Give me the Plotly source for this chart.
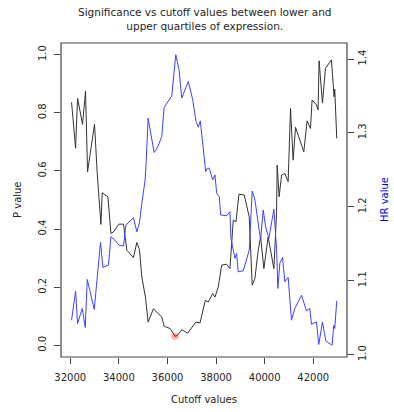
import plotly.graph_objects as go

# P value series (black)
cutoff_p = [32053, 32218, 32300, 32505, 32628, 32711, 32998, 33109, 33261, 33314,
            33548, 33672, 33778, 34000, 34189, 34329, 34600, 34739, 34846, 34945,
            35093, 35203, 35421, 35766, 35861, 36107, 36312, 36407, 36587, 36834,
            37162, 37339, 37557, 37680, 37861, 37955, 38091, 38230, 38436, 38571,
            38707, 38818, 38941, 39159, 39364, 39487, 39598, 39734, 39832, 39968,
            40144, 40378, 40489, 40514, 40596, 40695, 40830, 40966, 41064, 41171,
            41270, 41446, 41610, 41746, 41885, 41951, 42132, 42198, 42239, 42379,
            42502, 42748, 42855, 42884, 42966]
pvalue = [0.836, 0.678, 0.850, 0.760, 0.875, 0.597, 0.761, 0.591, 0.416, 0.525,
          0.511, 0.385, 0.390, 0.417, 0.417, 0.327, 0.302, 0.354, 0.330, 0.235,
          0.166, 0.080, 0.126, 0.097, 0.066, 0.058, 0.031, 0.034, 0.054, 0.042,
          0.080, 0.077, 0.155, 0.149, 0.178, 0.166, 0.201, 0.276, 0.279, 0.264,
          0.431, 0.425, 0.520, 0.517, 0.442, 0.207, 0.230, 0.327, 0.373, 0.264,
          0.373, 0.264, 0.454, 0.620, 0.511, 0.586, 0.591, 0.563, 0.815, 0.637,
          0.750, 0.706, 0.666, 0.772, 0.746, 0.844, 0.827, 0.810, 0.979, 0.833,
          0.953, 0.982, 0.855, 0.881, 0.712]

# HR series (blue)
cutoff_hr = [32053, 32218, 32300, 32493, 32616, 32698, 32986, 33244, 33343, 33573,
             33672, 33807, 34000, 34189, 34288, 34600, 34739, 34846, 34945, 35080,
             35121, 35203, 35450, 35602, 35766, 35861, 36177, 36341, 36477, 36587,
             36859, 37039, 37175, 37269, 37351, 37573, 37639, 37721, 37861, 37955,
             38025, 38132, 38189, 38436, 38571, 38612, 38777, 38847, 38912, 39118,
             39364, 39487, 39598, 39693, 39832, 39939, 40038, 40173, 40378, 40489,
             40542, 40624, 40735, 40830, 40966, 41105, 41241, 41516, 41721, 41857,
             41927, 42132, 42226, 42379, 42514, 42773, 42843, 42884, 42966]
hr = [1.0465, 1.0858, 1.0420, 1.0624, 1.0366, 1.1017, 1.0610, 1.1519, 1.1180, 1.1211,
      1.1595, 1.1559, 1.1482, 1.1468, 1.1753, 1.1852, 1.1662, 1.1784, 1.2047, 1.2363,
      1.2590, 1.3200, 1.2734, 1.2815, 1.2951, 1.3344, 1.3502, 1.4058, 1.3855, 1.3471,
      1.3696, 1.3448, 1.3154, 1.3078, 1.3163, 1.2476, 1.2522, 1.2522, 1.2363, 1.2431,
      1.2183, 1.2137, 1.1889, 1.1879, 1.1934, 1.1573, 1.1302, 1.1370, 1.1120, 1.1134,
      1.1414, 1.2214, 1.2092, 1.1866, 1.1550, 1.1957, 1.1730, 1.1573, 1.1966, 1.1437,
      1.0895, 1.1234, 1.1315, 1.0984, 1.1044, 1.0465, 1.0624, 1.0804, 1.0591, 1.0624,
      1.0411, 1.0442, 1.0136, 1.0442, 1.0184, 1.0126, 1.0397, 1.0353, 1.0727]

# minimum p value marker
min_cutoff = [36312]
min_p = [0.031]

x_ticks = [32000, 34000, 36000, 38000, 40000, 42000]
p_ticks = [0.0, 0.2, 0.4, 0.6, 0.8, 1.0]
hr_ticks = [1.0, 1.1, 1.2, 1.3, 1.4]

FONT = "DejaVu Sans"
TXT = "#262626"

fig = go.Figure()
fig.add_trace(go.Scatter(x=cutoff_p, y=pvalue, mode="lines",
                         line=dict(color="#333333", width=1), yaxis="y", showlegend=False))
fig.add_trace(go.Scatter(x=min_cutoff, y=min_p, mode="markers",
                         marker=dict(color="rgba(255,0,0,0.35)", size=7,
                                     line=dict(width=0)),
                         yaxis="y", showlegend=False))
fig.add_trace(go.Scatter(x=cutoff_hr, y=hr, mode="lines",
                         line=dict(color="#4040ff", width=1), yaxis="y2", showlegend=False))

fig.update_layout(
    width=394, height=412,
    margin=dict(l=61, r=47, t=43, b=55),
    paper_bgcolor="white", plot_bgcolor="white",
    font=dict(family=FONT, size=10, color=TXT),
    xaxis=dict(range=[31618, 43388], tickvals=x_ticks, ticktext=[str(v) for v in x_ticks],
               showgrid=False, zeroline=False, showline=False,
               ticks="outside", ticklen=6, tickcolor="#444", tickwidth=1,
               ticklabelstandoff=5,
               tickfont=dict(family=FONT, size=10, color=TXT)),
    yaxis=dict(range=[-0.04, 1.04], tickvals=p_ticks, ticktext=["%.1f" % v for v in p_ticks],
               showgrid=False, zeroline=False, showline=False,
               ticks="outside", ticklen=6, tickcolor="#444", tickwidth=1, tickangle=-90,
               ticklabelstandoff=4,
               tickfont=dict(family=FONT, size=10, color=TXT)),
    yaxis2=dict(range=[0.9967, 1.4217], tickvals=hr_ticks, ticktext=["%.1f" % v for v in hr_ticks],
                overlaying="y", side="right",
                showgrid=False, zeroline=False, showline=False,
                ticks="outside", ticklen=6, tickcolor="#444", tickwidth=1, tickangle=-90,
                tickfont=dict(family=FONT, size=10, color=TXT)),
    shapes=[dict(type="rect", xref="paper", yref="paper", x0=0, x1=1, y0=0, y1=1,
                 line=dict(color="#444", width=1.2))],
    annotations=[
        dict(text="Significance vs cutoff values between lower and<br>upper quartiles of expression.",
             xref="paper", yref="paper", x=0.5, y=1, yshift=24, xanchor="center", yanchor="middle",
             showarrow=False, font=dict(family=FONT, size=10.5, color=TXT), align="center"),
        dict(text="Cutoff values", xref="paper", yref="paper", x=0.5, y=0, yshift=-42,
             xanchor="center", yanchor="middle", showarrow=False,
             font=dict(family=FONT, size=10, color=TXT)),
        dict(text="P value", xref="paper", yref="paper", x=0, y=0.5, xshift=-44,
             xanchor="center", yanchor="middle", textangle=-90, showarrow=False,
             font=dict(family=FONT, size=10, color=TXT)),
        dict(text="HR value", xref="paper", yref="paper", x=1, y=0.5, xshift=37,
             xanchor="center", yanchor="middle", textangle=-90, showarrow=False,
             font=dict(family=FONT, size=10, color="#0000ff")),
    ],
)

fig.write_html("out.html")
